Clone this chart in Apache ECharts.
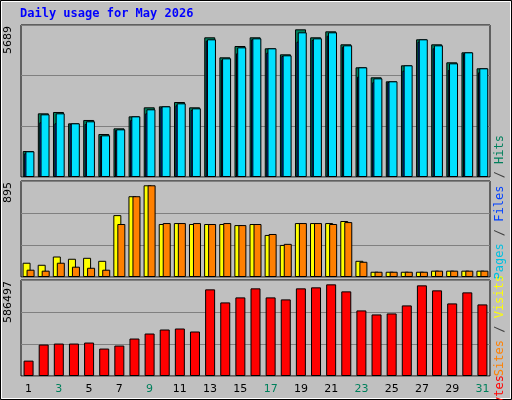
<!DOCTYPE html>
<html><head><meta charset="utf-8">
<script src="https://cdn.jsdelivr.net/npm/echarts@6/dist/echarts.min.js"></script>
<style>html,body{margin:0;padding:0;background:#c0c0c0}#c{width:512px;height:400px}</style>
</head><body><div id="c"></div>
<script>
const days = ['1','2','3','4','5','6','7','8','9','10','11','12','13','14','15','16','17','18','19','20','21','22','23','24','25','26','27','28','29','30','31'];
const weekendDays = ['2','3','9','10','16','17','23','24','30','31'];
const hits  = [973,2383,2433,2009,2134,1609,1821,2270,2608,2645,2807,2608,5228,4479,4903,5228,4816,4591,5527,5228,5452,4966,4105,3731,3581,4180,5153,4966,4292,4666,4068];
const files = [961,2346,2383,2009,2084,1559,1784,2270,2533,2645,2757,2570,5153,4441,4853,5190,4816,4554,5415,5190,5415,4928,4105,3693,3581,4180,5153,4928,4255,4666,4068];
const pages = [886,2046,2009,1984,1984,1535,1759,2134,2383,2608,2682,2508,5103,4379,4629,5153,4654,4529,5066,5128,5290,4878,3756,3544,3556,3980,5066,4816,4005,4629,3918];
const sites = [133,114,191,170,179,151,577,753,855,494,503,494,494,494,484,494,392,299,503,503,503,522,151,49,49,49,49,59,59,59,59];
const visits = [68,59,133,96,86,68,494,753,855,503,503,503,494,503,484,494,401,309,503,503,494,512,142,49,49,49,49,59,59,59,59];
const kbytes = [94006,192100,198230,198230,204360,167575,185968,228883,259537,284060,290191,271799,529292,449592,480246,535423,480246,467984,535423,541554,559946,517031,400546,376022,382153,431200,553816,523162,443461,510900,437330];
const axisMax = [5689, 895, 586497];
const title = 'Daily usage for May 2026';

const grids = [
  {left:21, right:22, top:25, height:152},
  {left:21, right:22, top:181, height:96},
  {left:21, right:22, top:280, height:96}
];
const bs = {borderColor:'#000', borderWidth:1};
const xAxes = grids.map((g,i)=>({type:'category', gridIndex:i, data:days,
  axisLine:{show:false}, axisTick:{show:false},
  axisLabel:{show:i===2, margin:8, fontFamily:'DejaVu Sans', fontSize:11,
    color:(v)=>weekendDays.includes(v)?'#00805c':'#000'}}));
const yAxes = grids.map((g,i)=>({type:'value', gridIndex:i, min:0, max:axisMax[i], interval:axisMax[i]/3,
  axisLabel:{show:false}, axisLine:{show:false}, axisTick:{show:false},
  splitLine:{show:true, lineStyle:{color:'#808080', width:1}}}));
const gridsOpt = grids.map(g=>Object.assign({show:true, backgroundColor:'#c0c0c0', borderColor:'#000', borderWidth:1}, g));

function rtext(x, y, parts){
  return {type:'text', x:x, y:y, rotation:Math.PI/2,
    style:{text:parts.map(p=>'{'+p[1]+'|'+p[0]+'}').join(''), rich:Object.fromEntries(parts.map(p=>[p[1],{fill:p[2], fontFamily:'DejaVu Sans Mono', fontSize:12}])), align:'right', verticalAlign:'middle'}};
}

const chart = echarts.init(document.getElementById('c'));
chart.setOption({
  animation:false,
  backgroundColor:'#c0c0c0',
  grid:gridsOpt, xAxis:xAxes, yAxis:yAxes,
  series:[
    {type:'bar', xAxisIndex:0, yAxisIndex:0, data:hits, barWidth:11, barGap:'-86.5%', itemStyle:Object.assign({color:'#00805c'},bs)},
    {type:'bar', xAxisIndex:0, yAxisIndex:0, data:pages, barWidth:9, itemStyle:Object.assign({color:'#0040ff'},bs)},
    {type:'bar', xAxisIndex:0, yAxisIndex:0, data:files, barWidth:9, itemStyle:Object.assign({color:'#00e0ff'},bs)},
    {type:'bar', xAxisIndex:1, yAxisIndex:1, data:sites, barWidth:8, barGap:'-50%', itemStyle:Object.assign({color:'#ffff00'},bs)},
    {type:'bar', xAxisIndex:1, yAxisIndex:1, data:visits, barWidth:8, itemStyle:Object.assign({color:'#ff8000'},bs)},
    {type:'bar', xAxisIndex:2, yAxisIndex:2, data:kbytes, barWidth:10, itemStyle:Object.assign({color:'#ff0000'},bs)}
  ],
  graphic:[
    {type:'rect', shape:{x:0.5,y:0.5,width:511,height:399}, style:{fill:'none', stroke:'#000', lineWidth:1}, silent:true},
    {type:'rect', shape:{x:1.5,y:1.5,width:509,height:397}, style:{fill:'none', stroke:'#ffffff', lineWidth:1}, silent:true},
    {type:'text', left:20, top:8, style:{text:title, fill:'#0000ff', fontFamily:'DejaVu Sans Mono', fontWeight:'bold', fontSize:12}},
    {type:'text', x:8, y:26, rotation:Math.PI/2, style:{text:String(axisMax[0]), fill:'#000', fontFamily:'DejaVu Sans', fontSize:11, align:'right', verticalAlign:'middle'}},
    {type:'text', x:8, y:182, rotation:Math.PI/2, style:{text:String(axisMax[1]), fill:'#000', fontFamily:'DejaVu Sans', fontSize:11, align:'right', verticalAlign:'middle'}},
    {type:'text', x:8, y:281, rotation:Math.PI/2, style:{text:String(axisMax[2]), fill:'#000', fontFamily:'DejaVu Sans', fontSize:11, align:'right', verticalAlign:'middle'}},
    rtext(500, 135, [['Pages','a','#00c0e0'],[' / ','s','#404040'],['Files','b','#0040ff'],[' / ','s','#404040'],['Hits','c','#00805c']]),
    rtext(500, 275, [['Sites','a','#ff8000'],[' / ','s','#404040'],['Visits','b','#ffff00']]),
    rtext(500, 375, [['KBytes','a','#ff0000']])
  ]
});
</script></body></html>
